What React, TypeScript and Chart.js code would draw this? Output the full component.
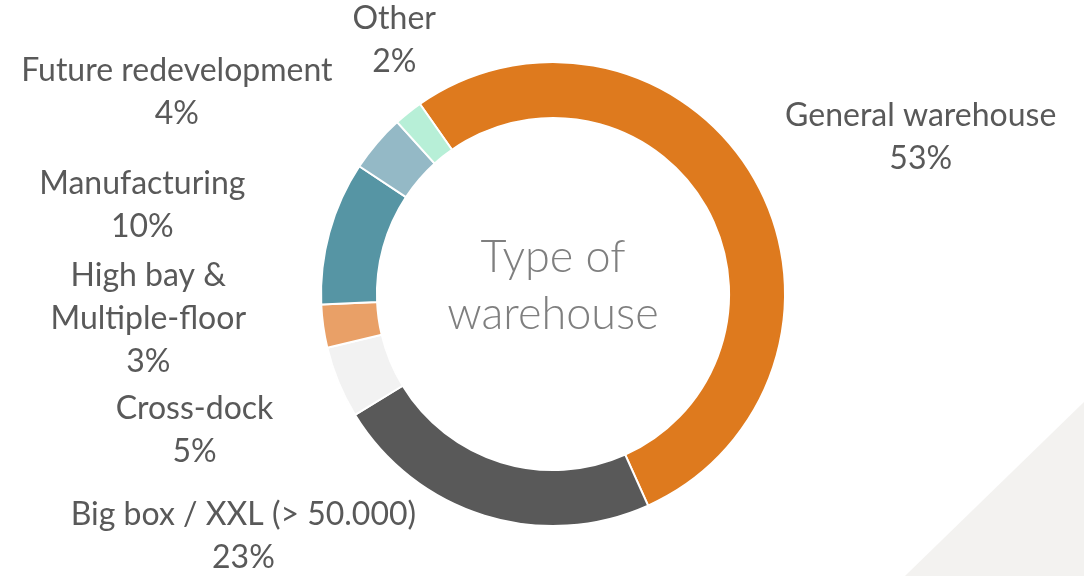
import React, { useEffect, useRef } from "react";
import Chart from "chart.js/auto";

// ---- data ----
const categories = [
  "General warehouse",
  "Big box / XXL (> 50.000)",
  "Cross-dock",
  "High bay & Multiple-floor",
  "Manufacturing",
  "Future redevelopment",
  "Other",
];
const shares = [53, 23, 5, 3, 10, 4, 2];
const labelLines = [
  ["General warehouse"],
  ["Big box / XXL (> 50.000)"],
  ["Cross-dock"],
  ["High bay &", "Multiple-floor"],
  ["Manufacturing"],
  ["Future redevelopment"],
  ["Other"],
];
const centerTitle = ["Type of", "warehouse"];

// ---- styles / layout ----
const sliceColors = ["#DE7A1E", "#595959", "#F2F2F2", "#E9A067", "#5695A4", "#94B9C6", "#B7EFD7"];
// label block offset from the arc's outer mid-point
const labelOffsets = [
  [166, -42],
  [-241, 21],
  [-144, 48],
  [-175, -8],
  [-187, -27],
  [-200, -51],
  [-14, -72],
];
const LABEL_FONT = "32px Lato, 'Open Sans', sans-serif";
const LABEL_COLOR = "#595959";
const LINE_H = 43;

const backgroundPlugin = {
  id: "bgTriangle",
  beforeDraw(chart: any) {
    const { ctx, width, height } = chart;
    ctx.save();
    ctx.fillStyle = "#FFFFFF";
    ctx.fillRect(0, 0, width, height);
    ctx.fillStyle = "#F3F2F0";
    ctx.beginPath();
    ctx.moveTo(905, height);
    ctx.lineTo(width, 402);
    ctx.lineTo(width, height);
    ctx.closePath();
    ctx.fill();
    ctx.restore();
  },
};

const labelPlugin = {
  id: "outLabels",
  afterDatasetsDraw(chart: any) {
    const { ctx } = chart;
    const meta = chart.getDatasetMeta(0);
    ctx.save();
    ctx.font = LABEL_FONT;
    ctx.fillStyle = LABEL_COLOR;
    ctx.textAlign = "center";
    ctx.textBaseline = "middle";
    meta.data.forEach((arc: any, i: number) => {
      const p = arc.getProps(["x", "y", "startAngle", "endAngle", "outerRadius"], true);
      const mid = (p.startAngle + p.endAngle) / 2;
      const ax = p.x + p.outerRadius * Math.cos(mid) + labelOffsets[i][0];
      const ay = p.y + p.outerRadius * Math.sin(mid) + labelOffsets[i][1];
      const lines = [...labelLines[i], `${shares[i]}%`];
      const y0 = ay - ((lines.length - 1) * LINE_H) / 2;
      lines.forEach((t, k) => ctx.fillText(t, ax, y0 + k * LINE_H));
    });
    // center title
    const a0 = meta.data[0];
    if (a0) {
      ctx.font = "300 45px Lato, 'Open Sans', sans-serif";
      ctx.fillStyle = "#7F7F7F";
      ctx.fillText(centerTitle[0], a0.x, a0.y - 37);
      ctx.fillText(centerTitle[1], a0.x, a0.y + 20);
    }
    ctx.restore();
  },
};

export default function App() {
  const ref = useRef<HTMLCanvasElement>(null);
  useEffect(() => {
    document.body.style.margin = "0";
    const chart = new Chart(ref.current as HTMLCanvasElement, {
      type: "doughnut",
      data: {
        labels: categories,
        datasets: [
          {
            data: shares,
            backgroundColor: sliceColors,
            borderColor: "#FFFFFF",
            borderWidth: 2,
            hoverOffset: 0,
          },
        ],
      },
      options: {
        responsive: false,
        animation: false,
        rotation: -35,
        cutout: "75.9%",
        layout: { padding: { left: 320, right: 298, top: 61, bottom: 49 } },
        plugins: {
          legend: { display: false },
          tooltip: { enabled: false },
        },
      },
      plugins: [backgroundPlugin, labelPlugin],
    });
    return () => chart.destroy();
  }, []);
  return <canvas ref={ref} width={1084} height={576} style={{ display: "block" }} />;
}
